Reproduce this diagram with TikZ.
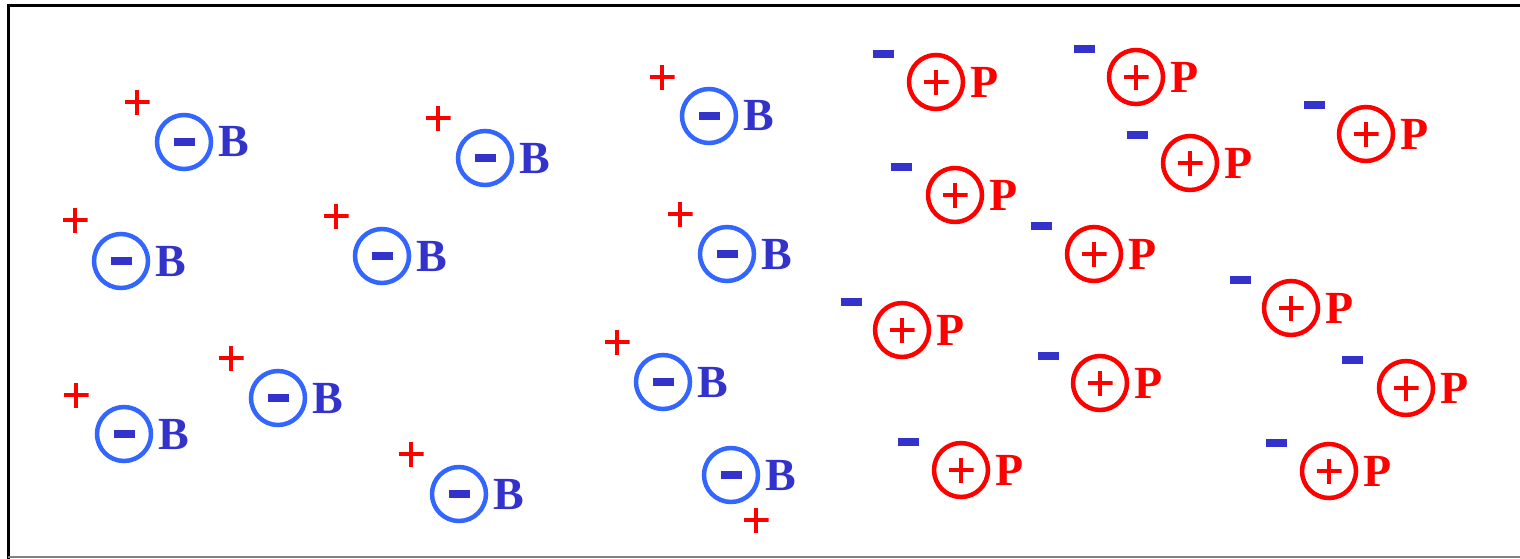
\documentclass[tikz,border=0pt]{standalone}
\usepackage{fontspec}
\setmainfont{Liberation Serif}
\definecolor{ringblue}{RGB}{51,102,255}
\definecolor{inkblue}{RGB}{51,51,204}
\definecolor{inkred}{RGB}{255,0,0}
\begin{document}
\begin{tikzpicture}[x=1pt,y=-1pt,
  bring/.style={circle, draw=ringblue, line width=4.5pt, minimum size=54pt, inner sep=0pt},
  pring/.style={circle, draw=inkred, line width=4.5pt, minimum size=54pt, inner sep=0pt},
  bar/.style={rectangle, fill=inkblue, minimum width=21pt, minimum height=8.5pt, inner sep=0pt},
  plussign/.style={rectangle, minimum size=25pt, inner sep=0pt,
    path picture={\draw[inkred, line width=3.2pt]
      (path picture bounding box.north) -- (path picture bounding box.south)
      (path picture bounding box.west) -- (path picture bounding box.east);}},
  letter/.style={anchor=west, inner sep=0pt, font=\bfseries\fontsize{46}{46}\selectfont}
]
\useasboundingbox (0,0) rectangle (1520,558);
% frame
\draw[line width=3pt] (8.5,562) -- (8.5,5) -- (1525,5);
\draw[gray, line width=2pt] (8,557) -- (1522,557);
% negative ions (B) with their positive counter charges
\foreach \i/\cx/\cy/\px/\py in {
  1/184/142/137/102, 2/485/158/438/118, 3/709/116/662/77,
  4/121/261/75/220, 5/382/256/336/216, 6/727/254/680/214,
  7/663/382/617/342, 8/278/398/231/358, 9/124/434/76/395,
  10/459/494/411/454, 11/731/475/756/520} {
  \node[bring] (b\i) at (\cx,\cy) {};
  \node[bar] (bm\i) at (b\i.center) {};
  \node[letter, text=inkblue] (bl\i) at ([xshift=34pt]b\i.center) {B};
  \node[plussign] (bp\i) at (\px,\py) {};
}
% positive ions (P) with their negative counter charges
\foreach \i/\cx/\cy/\mx/\my in {
  1/936/82/883/54, 2/1136/77/1084/49, 3/1366/134/1314/105,
  4/1190/163/1137/135, 5/955/195/901/167, 6/1094/254/1041/226,
  7/902/330/851/302, 8/1291/308/1240/280, 9/1100/383/1048/356,
  10/1406/388/1352/360, 11/961/470/908/442, 12/1329/471/1276/443} {
  \node[pring] (p\i) at (\cx,\cy) {};
  \node[plussign] (pp\i) at (p\i.center) {};
  \node[letter, text=inkred] (pl\i) at ([xshift=34pt]p\i.center) {P};
  \node[bar] (pm\i) at (\mx,\my) {};
}
\end{tikzpicture}
\end{document}
